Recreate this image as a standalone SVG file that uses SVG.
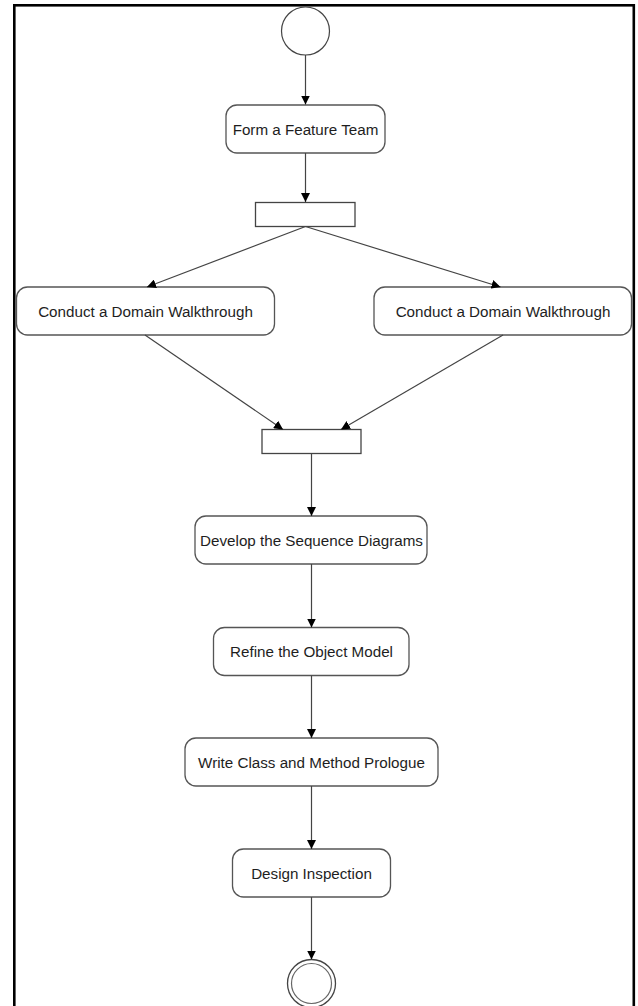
<svg xmlns="http://www.w3.org/2000/svg" width="638" height="1006" viewBox="0 0 638 1006">
<style>
.frame{fill:none;stroke:#000;stroke-width:2.6}
.box{fill:#fff;stroke:#555;stroke-width:1.3}
.bar{fill:#fff;stroke:#444;stroke-width:1.3}
.lbl{font-family:"Liberation Sans",Arial,sans-serif;font-size:15.2px;fill:#1e1e1e;text-anchor:middle}
.edge{fill:none;stroke:#444;stroke-width:1.2;marker-end:url(#arr)}
</style>
<defs>
<marker id="arr" markerUnits="userSpaceOnUse" markerWidth="9" markerHeight="9" refX="9" refY="4.5" orient="auto">
<path d="M0,0 L9,4.5 L0,9 z" fill="#000"/>
</marker>
</defs>
<rect width="638" height="1006" fill="#fff"/>
<rect class="frame" x="14.3" y="5.3" width="619.5" height="1012"/>
<g id="start"><circle cx="305.5" cy="31" r="24" fill="#fff" stroke="#444" stroke-width="1.2"/></g>
<g id="form"><rect class="box" x="226" y="105" width="159" height="48" rx="11"/><text class="lbl" x="305.5" y="134.5">Form a Feature Team</text></g>
<g id="fork"><rect class="bar" x="255.5" y="202.5" width="99.5" height="24"/></g>
<g id="walk1"><rect class="box" x="16.5" y="287" width="258" height="48" rx="11"/><text class="lbl" x="145.5" y="316.5">Conduct a Domain Walkthrough</text></g>
<g id="walk2"><rect class="box" x="374" y="287" width="257.5" height="48" rx="11"/><text class="lbl" x="503" y="316.5">Conduct a Domain Walkthrough</text></g>
<g id="join"><rect class="bar" x="262" y="429.5" width="99" height="24"/></g>
<g id="seq"><rect class="box" x="195" y="516" width="232" height="48" rx="11"/><text class="lbl" x="311.5" y="545.5">Develop the Sequence Diagrams</text></g>
<g id="refine"><rect class="box" x="213.5" y="627.5" width="195.5" height="48" rx="11"/><text class="lbl" x="311.5" y="656.5">Refine the Object Model</text></g>
<g id="write"><rect class="box" x="185" y="738" width="253" height="48" rx="11"/><text class="lbl" x="311.5" y="767.5">Write Class and Method Prologue</text></g>
<g id="inspect"><rect class="box" x="232.5" y="849" width="158" height="48" rx="11"/><text class="lbl" x="311.5" y="878.5">Design Inspection</text></g>
<g id="end"><circle cx="311.5" cy="983.5" r="24" fill="#fff" stroke="#444" stroke-width="1.3"/><circle cx="311.5" cy="983.5" r="20" fill="#fff" stroke="#666" stroke-width="1.2"/></g>
<g id="connectors">
<path class="edge" d="M305.5,55 L305.5,104.5"/>
<path class="edge" d="M305.5,153 L305.5,202"/>
<path class="edge" d="M305.5,226.5 L147,287"/>
<path class="edge" d="M305.5,226.5 L500.5,287"/>
<path class="edge" d="M145,335 L283,429.5"/>
<path class="edge" d="M503,335 L341,429.5"/>
<path class="edge" d="M311.5,453.5 L311.5,516"/>
<path class="edge" d="M311.5,564 L311.5,627.5"/>
<path class="edge" d="M311.5,675.5 L311.5,738"/>
<path class="edge" d="M311.5,786 L311.5,849"/>
<path class="edge" d="M311.5,897 L311.5,959.5"/>
</g>
</svg>
